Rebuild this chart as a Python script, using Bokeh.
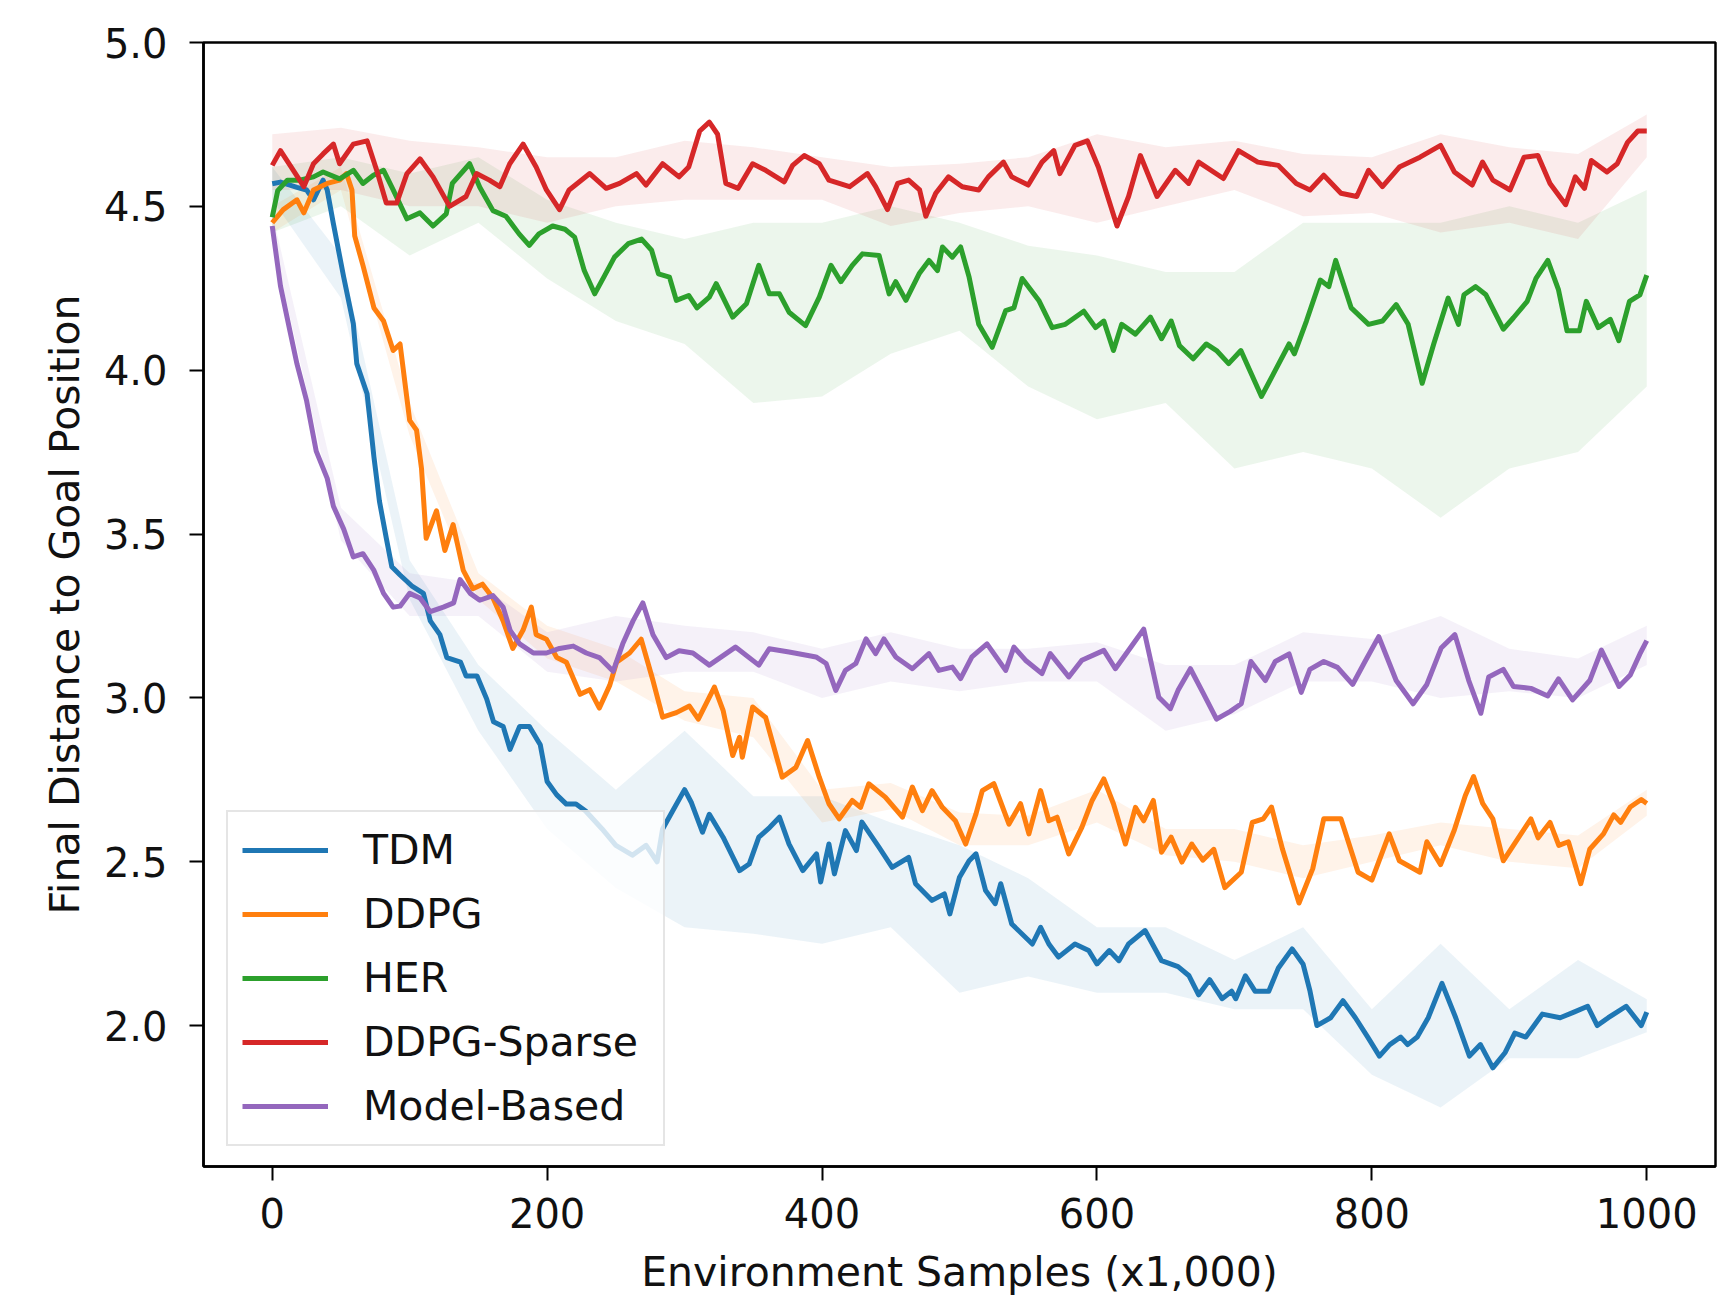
import sys
from bokeh.plotting import figure
from bokeh.models import Range1d, FixedTicker, Legend, LegendItem, PrintfTickFormatter
from bokeh.embed import file_html
from bokeh.resources import INLINE

# ---------------- data ----------------
tdm_x = [0, 6, 18, 25, 30, 37, 40, 44.5, 52, 59, 61.5, 69, 74, 78, 83, 87, 93, 102, 110, 115, 122, 127, 137, 141, 149, 156, 161, 168, 173, 180, 187, 195, 200, 207, 214, 221, 228, 240, 250, 262, 272, 280, 284, 292, 300, 305, 313, 318, 328, 340, 347, 354, 362, 369, 376, 386, 396, 399, 405, 409, 417, 425, 429, 441.5, 451, 463, 468, 480, 489, 493, 500, 507, 512, 519, 526, 530, 538, 553, 559, 565, 572, 584, 594, 600, 609, 616, 623, 635, 647, 659, 667, 674, 682, 691, 698, 701, 708, 715, 725, 732, 742, 750, 755, 760, 770, 779, 788, 797, 805.5, 813, 821, 826, 833, 841, 851, 861, 871, 879, 888, 897, 904, 912, 924, 937, 947, 957, 964, 972, 985, 996, 1000]
tdm_y = [4.569, 4.574, 4.558, 4.55, 4.52, 4.58, 4.55, 4.447, 4.284, 4.142, 4.02, 3.928, 3.735, 3.6, 3.487, 3.4, 3.375, 3.34, 3.319, 3.235, 3.193, 3.123, 3.109, 3.067, 3.067, 2.997, 2.927, 2.913, 2.843, 2.913, 2.913, 2.857, 2.745, 2.704, 2.676, 2.676, 2.655, 2.60, 2.55, 2.52, 2.55, 2.50, 2.60, 2.66, 2.72, 2.68, 2.59, 2.645, 2.575, 2.473, 2.493, 2.575, 2.605, 2.636, 2.554, 2.473, 2.524, 2.438, 2.554, 2.463, 2.595, 2.534, 2.621, 2.544, 2.483, 2.513, 2.433, 2.382, 2.402, 2.341, 2.453, 2.503, 2.524, 2.412, 2.372, 2.433, 2.31, 2.249, 2.30, 2.249, 2.209, 2.249, 2.229, 2.188, 2.229, 2.198, 2.249, 2.29, 2.198, 2.18, 2.152, 2.094, 2.14, 2.082, 2.105, 2.082, 2.152, 2.105, 2.105, 2.176, 2.234, 2.187, 2.105, 2.0, 2.024, 2.076, 2.024, 1.965, 1.907, 1.942, 1.965, 1.942, 1.965, 2.024, 2.129, 2.024, 1.907, 1.942, 1.871, 1.918, 1.977, 1.965, 2.035, 2.024, 2.041, 2.059, 2.0, 2.024, 2.059, 2.0, 2.041]

ddpg_x = [0, 8, 18, 23, 30, 40, 49, 54, 58, 60, 66, 74, 81, 88, 93, 100, 105, 108.6, 112, 119.5, 125.6, 131.6, 139, 146, 153, 160.6, 168, 175, 182.5, 188.5, 192, 199.5, 207, 214, 224, 231, 238, 245.6, 250.5, 260, 268.4, 277, 284, 294, 303.5, 310, 321.7, 328, 335, 340, 342, 349.5, 359, 371, 381, 389.5, 398, 405, 412.5, 422, 428, 434, 446, 458.5, 465.7, 473, 480, 487.5, 497, 504.5, 512, 516.6, 525, 536, 544.4, 550.5, 559, 565, 571, 579.5, 589, 596.5, 605, 612, 620.7, 628, 634, 641, 647, 654, 661.8, 669, 677, 685, 693, 705, 713, 721, 727, 735, 747, 757, 765, 777.5, 790, 800, 812.6, 820, 835, 840, 850, 860, 868, 874, 880.6, 888, 895.6, 903, 915.7, 921, 929.6, 936, 943, 952, 958.5, 968.5, 976, 981, 988, 996, 1000]
ddpg_y = [4.45, 4.49, 4.52, 4.48, 4.55, 4.57, 4.58, 4.60, 4.55, 4.41, 4.32, 4.19, 4.15, 4.06, 4.08, 3.847, 3.817, 3.70, 3.487, 3.571, 3.45, 3.529, 3.389, 3.333, 3.347, 3.305, 3.235, 3.151, 3.207, 3.277, 3.193, 3.179, 3.123, 3.109, 3.011, 3.025, 2.969, 3.039, 3.109, 3.137, 3.179, 3.053, 2.941, 2.955, 2.975, 2.935, 3.033, 2.962, 2.824, 2.88, 2.819, 2.972, 2.94, 2.758, 2.788, 2.87, 2.758, 2.677, 2.631, 2.687, 2.666, 2.738, 2.697, 2.636, 2.728, 2.656, 2.717, 2.666, 2.625, 2.554, 2.646, 2.717, 2.738, 2.615, 2.677, 2.585, 2.717, 2.625, 2.636, 2.524, 2.605, 2.687, 2.753, 2.677, 2.554, 2.666, 2.625, 2.687, 2.529, 2.575, 2.499, 2.554, 2.505, 2.538, 2.421, 2.468, 2.62, 2.631, 2.667, 2.538, 2.374, 2.479, 2.631, 2.631, 2.468, 2.444, 2.585, 2.503, 2.468, 2.561, 2.491, 2.597, 2.702, 2.76, 2.678, 2.631, 2.503, 2.55, 2.631, 2.573, 2.62, 2.55, 2.561, 2.433, 2.538, 2.585, 2.643, 2.62, 2.667, 2.69, 2.678]

her_x = [0, 4, 11, 20, 30, 37, 49, 59, 66, 73.6, 81, 88, 98, 107.5, 117, 126.6, 131, 143.6, 151, 160.6, 170, 179.6, 187, 194, 204, 213, 220, 227, 234.6, 242, 249, 259, 268.7, 276, 281, 289, 294, 303, 309, 318, 323, 335, 345, 354, 361.6, 369, 376, 388, 398, 406.5, 413.7, 422, 429.4, 441.5, 448.8, 453.6, 461, 470.6, 477.8, 484, 487.6, 494.8, 500.8, 507, 514, 523.8, 533.6, 539.6, 545.6, 557.7, 567.4, 577, 590.4, 599, 605, 612, 618, 628, 638.9, 647, 654, 660, 670, 679.5, 687, 695.8, 704.7, 719.7, 729.8, 739.8, 743.6, 752.4, 762.5, 768.7, 773.7, 785, 797.6, 807.7, 817.7, 826.4, 836.6, 845, 855.5, 863, 867, 875.5, 883, 895.6, 903, 913, 919.4, 928, 935.8, 942, 951, 956, 964.7, 973.5, 979.7, 987.4, 995, 1000]
her_y = [4.467, 4.548, 4.58, 4.58, 4.59, 4.605, 4.584, 4.61, 4.57, 4.595, 4.61, 4.55, 4.462, 4.48, 4.44, 4.477, 4.57, 4.63, 4.558, 4.487, 4.47, 4.416, 4.381, 4.416, 4.44, 4.43, 4.406, 4.304, 4.233, 4.29, 4.345, 4.386, 4.40, 4.366, 4.294, 4.284, 4.213, 4.228, 4.19, 4.223, 4.264, 4.162, 4.203, 4.32, 4.233, 4.233, 4.177, 4.136, 4.223, 4.32, 4.27, 4.32, 4.355, 4.35, 4.233, 4.27, 4.213, 4.294, 4.335, 4.304, 4.376, 4.345, 4.376, 4.284, 4.14, 4.07, 4.182, 4.19, 4.28, 4.213, 4.13, 4.14, 4.18, 4.13, 4.15, 4.06, 4.14, 4.11, 4.162, 4.096, 4.15, 4.075, 4.035, 4.08, 4.06, 4.02, 4.06, 3.92, 4.0, 4.08, 4.05, 4.15, 4.275, 4.255, 4.335, 4.19, 4.14, 4.15, 4.20, 4.14, 3.96, 4.08, 4.22, 4.14, 4.23, 4.255, 4.23, 4.125, 4.16, 4.21, 4.28, 4.335, 4.245, 4.12, 4.12, 4.21, 4.13, 4.155, 4.09, 4.21, 4.23, 4.29]

sparse_x = [0, 6, 13, 23, 30, 37, 44.5, 49, 59, 69, 76, 83, 90.5, 98, 107.5, 117, 129, 141, 148.6, 158, 165.6, 172.8, 182.5, 192, 199.5, 209, 216, 231, 243, 252.7, 265, 272, 284, 296, 303, 311, 318, 324, 330, 339, 349.5, 359, 372.5, 378.6, 387, 398, 405, 420, 433, 439, 447.6, 455, 463, 471, 475.5, 482.7, 492, 502, 514, 521, 532, 538, 550, 560, 568.6, 573, 584, 593, 601, 614.6, 623, 631.6, 643.7, 657, 666.7, 674, 692, 703, 717, 732, 745, 755, 765, 777.5, 789, 797.6, 807.7, 820, 835, 850, 860, 873, 880.5, 888, 900.5, 910.7, 920.8, 929.6, 941, 948, 954.7, 959.7, 971, 978.5, 986, 993.5, 1000]
sparse_y = [4.625, 4.67, 4.625, 4.56, 4.63, 4.66, 4.69, 4.63, 4.69, 4.70, 4.61, 4.51, 4.51, 4.60, 4.645, 4.59, 4.50, 4.53, 4.60, 4.58, 4.56, 4.63, 4.69, 4.62, 4.55, 4.49, 4.55, 4.60, 4.555, 4.57, 4.60, 4.565, 4.63, 4.59, 4.62, 4.73, 4.757, 4.72, 4.57, 4.555, 4.63, 4.61, 4.575, 4.625, 4.655, 4.63, 4.58, 4.56, 4.60, 4.56, 4.49, 4.57, 4.58, 4.55, 4.47, 4.54, 4.59, 4.56, 4.55, 4.59, 4.635, 4.59, 4.565, 4.635, 4.67, 4.60, 4.686, 4.70, 4.62, 4.44, 4.53, 4.655, 4.53, 4.61, 4.57, 4.635, 4.585, 4.67, 4.635, 4.625, 4.57, 4.55, 4.595, 4.54, 4.53, 4.61, 4.56, 4.62, 4.65, 4.686, 4.605, 4.565, 4.635, 4.58, 4.55, 4.65, 4.655, 4.57, 4.505, 4.59, 4.555, 4.64, 4.605, 4.63, 4.695, 4.73, 4.73]

mb_x = [0, 6, 13, 18, 25, 32, 40, 44.5, 52, 59, 66, 74, 81, 88, 93, 100, 107.5, 115, 124.5, 132, 136.6, 144, 151, 160.6, 168, 173, 180, 190, 199.5, 209, 219, 228.5, 238, 248, 255, 262.5, 269.6, 277, 286.6, 296, 306, 318, 337, 354, 361.6, 376, 395.6, 403, 410, 417, 424.6, 432, 439, 445, 453.6, 465.7, 477.8, 485, 494.8, 500.8, 509, 520, 533.6, 539.6, 548, 560, 566, 579.5, 589, 605, 613.4, 625.5, 634, 645, 653.4, 659, 668, 677, 687, 697, 705, 712, 722.5, 729.7, 739.8, 748.6, 754.9, 765, 775, 786, 795, 805, 817.7, 830, 840, 850.4, 860.4, 870.5, 879.3, 885, 895.6, 903, 915.7, 928, 935.8, 946, 958.5, 967, 979.8, 988, 995, 1000]
mb_y = [4.44, 4.257, 4.117, 4.019, 3.907, 3.753, 3.67, 3.585, 3.515, 3.43, 3.44, 3.389, 3.319, 3.277, 3.28, 3.319, 3.305, 3.263, 3.277, 3.29, 3.361, 3.319, 3.298, 3.312, 3.277, 3.207, 3.165, 3.137, 3.137, 3.151, 3.158, 3.137, 3.123, 3.081, 3.165, 3.235, 3.29, 3.193, 3.123, 3.144, 3.137, 3.10, 3.155, 3.10, 3.15, 3.14, 3.125, 3.105, 3.023, 3.084, 3.105, 3.18, 3.135, 3.18, 3.125, 3.089, 3.135, 3.084, 3.094, 3.059, 3.125, 3.165, 3.084, 3.155, 3.115, 3.074, 3.135, 3.064, 3.115, 3.145, 3.089, 3.16, 3.21, 3.002, 2.967, 3.023, 3.089, 3.017, 2.935, 2.959, 2.982, 3.111, 3.053, 3.111, 3.134, 3.017, 3.087, 3.111, 3.093, 3.041, 3.111, 3.187, 3.053, 2.982, 3.041, 3.152, 3.193, 3.053, 2.953, 3.064, 3.087, 3.035, 3.029, 3.006, 3.058, 2.994, 3.053, 3.146, 3.035, 3.07, 3.134, 3.175]

# shaded spread bands (lower / upper edge), read at every 50 samples
band_x = [0, 50, 100, 150, 200, 250, 300, 350, 400, 450, 500, 550, 600, 650, 700, 750, 800, 850, 900, 950, 1000]
tdm_lo = [4.52, 4.22, 3.30, 2.90, 2.60, 2.42, 2.30, 2.28, 2.25, 2.30, 2.10, 2.15, 2.10, 2.10, 2.05, 2.05, 1.85, 1.75, 1.90, 1.90, 1.98]
tdm_hi = [4.62, 4.35, 3.42, 3.10, 2.90, 2.72, 2.90, 2.70, 2.70, 2.62, 2.55, 2.45, 2.30, 2.30, 2.20, 2.30, 2.05, 2.25, 2.05, 2.20, 2.08]
ddpg_lo = [4.42, 4.55, 3.80, 3.30, 3.12, 3.05, 2.93, 2.88, 2.62, 2.66, 2.55, 2.55, 2.62, 2.52, 2.50, 2.45, 2.50, 2.55, 2.50, 2.48, 2.64]
ddpg_hi = [4.50, 4.62, 3.90, 3.38, 3.22, 3.15, 3.02, 3.00, 2.72, 2.74, 2.65, 2.64, 2.72, 2.60, 2.60, 2.55, 2.58, 2.62, 2.60, 2.58, 2.72]
her_lo = [4.42, 4.50, 4.35, 4.45, 4.28, 4.15, 4.08, 3.90, 3.92, 4.05, 4.12, 3.95, 3.85, 3.90, 3.70, 3.75, 3.70, 3.55, 3.70, 3.75, 3.95]
her_hi = [4.62, 4.65, 4.60, 4.65, 4.52, 4.45, 4.40, 4.45, 4.45, 4.50, 4.45, 4.38, 4.35, 4.30, 4.30, 4.45, 4.45, 4.45, 4.50, 4.45, 4.55]
sparse_lo = [4.55, 4.55, 4.50, 4.50, 4.45, 4.50, 4.52, 4.52, 4.52, 4.44, 4.48, 4.50, 4.45, 4.50, 4.55, 4.47, 4.48, 4.42, 4.45, 4.40, 4.65]
sparse_hi = [4.72, 4.74, 4.70, 4.68, 4.65, 4.65, 4.70, 4.68, 4.65, 4.62, 4.63, 4.65, 4.72, 4.68, 4.70, 4.66, 4.65, 4.72, 4.68, 4.66, 4.78]
mb_lo = [4.40, 3.48, 3.25, 3.25, 3.08, 3.05, 3.08, 3.08, 3.00, 3.05, 3.02, 3.05, 3.05, 2.90, 2.95, 3.05, 3.05, 3.00, 3.02, 3.00, 3.10]
mb_hi = [4.48, 3.58, 3.38, 3.35, 3.20, 3.25, 3.22, 3.20, 3.15, 3.20, 3.15, 3.15, 3.17, 3.10, 3.10, 3.20, 3.18, 3.25, 3.15, 3.12, 3.22]

x_ticks = [0, 200, 400, 600, 800, 1000]
y_ticks = [2.0, 2.5, 3.0, 3.5, 4.0, 4.5, 5.0]

series = [
    ("TDM", "#1f77b4", tdm_x, tdm_y, tdm_lo, tdm_hi),
    ("DDPG", "#ff7f0e", ddpg_x, ddpg_y, ddpg_lo, ddpg_hi),
    ("HER", "#2ca02c", her_x, her_y, her_lo, her_hi),
    ("DDPG-Sparse", "#d62728", sparse_x, sparse_y, sparse_lo, sparse_hi),
    ("Model-Based", "#9467bd", mb_x, mb_y, mb_lo, mb_hi),
]
for name, _, xs, ys, lo, hi in series:
    if len(xs) != len(ys):
        print("length mismatch", name, len(xs), len(ys), file=sys.stderr)

FONT = "DejaVu Sans"

p = figure(width=1720, height=1302, output_backend="svg", toolbar_location=None,
           x_range=Range1d(-50, 1050), y_range=Range1d(1.57, 5.0),
           min_border_left=203, min_border_right=5, min_border_top=42, min_border_bottom=136)
p.background_fill_color = "white"
p.border_fill_color = "white"
p.xgrid.visible = False
p.ygrid.visible = False
p.outline_line_color = "black"
p.outline_line_width = 2.5
p.outline_line_alpha = 1.0

for name, col, xs, ys, lo, hi in series:
    p.varea(x=band_x, y1=lo, y2=hi, fill_color=col, fill_alpha=0.09)

items = []
for name, col, xs, ys, lo, hi in series:
    r = p.line(xs, ys, line_color=col, line_width=5, line_join="round")
    items.append(LegendItem(label=name, renderers=[r]))

p.xaxis.ticker = FixedTicker(ticks=x_ticks)
p.yaxis.ticker = FixedTicker(ticks=y_ticks)
p.yaxis.formatter = PrintfTickFormatter(format="%.1f")
for ax in (p.xaxis, p.yaxis):
    ax.minor_tick_line_color = None
    ax.major_tick_in = 0
    ax.major_tick_out = 14
    ax.major_tick_line_width = 2
    ax.major_tick_line_color = "black"
    ax.axis_line_color = "black"
    ax.axis_line_width = 2.5
    ax.major_label_text_font = FONT
    ax.major_label_text_font_size = "40px"
    ax.major_label_text_color = "#111111"
    ax.axis_label_text_font = FONT
    ax.axis_label_text_font_size = "41px"
    ax.axis_label_text_font_style = "normal"
    ax.axis_label_text_color = "#111111"

p.yaxis.major_label_standoff = 22
p.yaxis.axis_label_standoff = 12
p.xaxis.major_label_standoff = 17
p.xaxis.axis_label_standoff = 17

p.xaxis.axis_label = "Environment Samples (x1,000)"
p.yaxis.axis_label = "Final Distance to Goal Position"

legend = Legend(items=items, location=(23, 20))
legend.label_text_font = FONT
legend.label_text_font_size = "41px"
legend.label_text_color = "#111111"
legend.glyph_width = 86
legend.glyph_height = 48
legend.label_height = 48
legend.label_width = 286
legend.label_standoff = 35
legend.spacing = 16
legend.padding = 14
legend.margin = 0
legend.border_line_color = "#cccccc"
legend.border_line_width = 2
legend.background_fill_color = "white"
legend.background_fill_alpha = 0.8
p.add_layout(legend)

open("out.html", "w").write(file_html(p, INLINE))
